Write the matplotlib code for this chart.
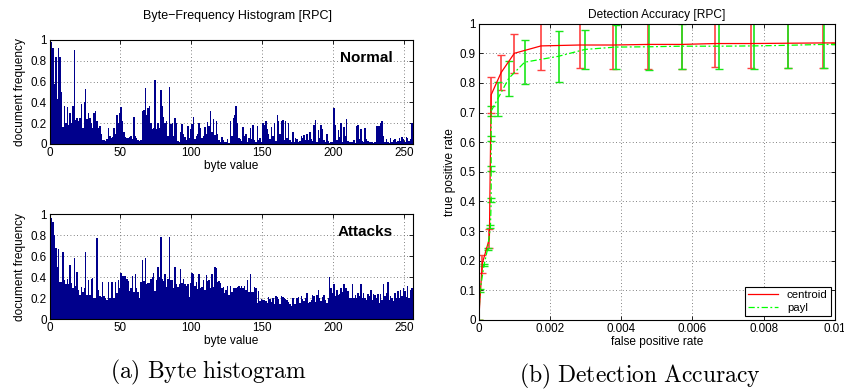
# ==========================
# Byte histograms + detection accuracy (RPC)
# ==========================

import numpy as np
import matplotlib
matplotlib.use("Agg")
import matplotlib.pyplot as plt

plt.rcParams["font.family"] = ["Liberation Sans", "DejaVu Sans"]
plt.rcParams["mathtext.fontset"] = "cm"

# ==========================
# 1. Data
# ==========================

byte_values = np.arange(256)

normal_freq = [
    1.0, 0.98, 0.92, 0.58, 0.84, 0.43, 0.92, 0.84, 0.5, 0.16, 0.37, 0.2, 0.36, 0.18, 0.3, 0.2,
    0.37, 0.9, 0.23, 0.25, 0.22, 0.25, 0.38, 0.15, 0.4, 0.53, 0.24, 0.3, 0.25, 0.2, 0.15, 0.3,
    0.32, 0.22, 0.15, 0.17, 0.1, 0.04, 0.04, 0.03, 0.05, 0.15, 0.08, 0.06, 0.07, 0.15, 0.1, 0.28,
    0.2, 0.3, 0.36, 0.22, 0.12, 0.07, 0.06, 0.06, 0.07, 0.08, 0.05, 0.26, 0.08, 0.06, 0.04, 0.03,
    0.04, 0.32, 0.33, 0.54, 0.28, 0.35, 0.37, 0.2, 0.14, 0.15, 0.62, 0.14, 0.2, 0.15, 0.52, 0.37,
    0.26, 0.2, 0.22, 0.08, 0.55, 0.19, 0.2, 0.08, 0.25, 0.2, 0.03, 0.02, 0.12, 0.19, 0.1, 0.07,
    0.04, 0.17, 0.06, 0.14, 0.19, 0.26, 0.05, 0.08, 0.1, 0.2, 0.15, 0.06, 0.08, 0.16, 0.1, 0.21,
    0.17, 0.32, 0.12, 0.24, 0.09, 0.22, 0.1, 0.04, 0.02, 0.07, 0.04, 0.02, 0.02, 0.05, 0.01, 0.22,
    0.08, 0.25, 0.28, 0.37, 0.2, 0.06, 0.05, 0.03, 0.16, 0.08, 0.1, 0.02, 0.06, 0.15, 0.05, 0.18,
    0.04, 0.02, 0.17, 0.04, 0.06, 0.02, 0.2, 0.18, 0.22, 0.14, 0.1, 0.05, 0.16, 0.08, 0.2, 0.03,
    0.28, 0.22, 0.1, 0.22, 0.23, 0.04, 0.22, 0.06, 0.2, 0.04, 0.02, 0.12, 0.02, 0.06, 0.05, 0.02,
    0.03, 0.08, 0.06, 0.09, 0.04, 0.1, 0.04, 0.12, 0.05, 0.03, 0.18, 0.23, 0.02, 0.13, 0.06, 0.18,
    0.14, 0.04, 0.02, 0.1, 0.03, 0.01, 0.02, 0.02, 0.35, 0.18, 0.04, 0.13, 0.07, 0.2, 0.02, 0.16,
    0.08, 0.24, 0.03, 0.02, 0.02, 0.02, 0.04, 0.01, 0.17, 0.18, 0.05, 0.14, 0.03, 0.02, 0.15, 0.05,
    0.03, 0.02, 0.02, 0.02, 0.01, 0.02, 0.17, 0.17, 0.17, 0.2, 0.22, 0.08, 0.02, 0.05, 0.02, 0.01,
    0.06, 0.02, 0.04, 0.05, 0.02, 0.03, 0.06, 0.03, 0.07, 0.05, 0.02, 0.07, 0.06, 0.03, 0.05, 0.2,
]

attack_freq = [
    0.98, 0.96, 0.93, 0.8, 0.68, 0.5, 0.67, 0.35, 0.35, 0.64, 0.37, 0.33, 0.38, 0.33, 0.52, 0.34,
    0.3, 0.58, 0.32, 0.45, 0.28, 0.23, 0.31, 0.26, 0.3, 0.64, 0.23, 0.37, 0.23, 0.38, 0.39, 0.2,
    0.2, 0.77, 0.28, 0.22, 0.21, 0.35, 0.22, 0.2, 0.18, 0.35, 0.2, 0.35, 0.35, 0.2, 0.35, 0.25,
    0.37, 0.3, 0.44, 0.41, 0.41, 0.41, 0.38, 0.36, 0.27, 0.3, 0.41, 0.26, 0.43, 0.3, 0.26, 0.2,
    0.35, 0.56, 0.36, 0.58, 0.33, 0.34, 0.34, 0.38, 0.4, 0.44, 0.27, 0.37, 0.5, 0.4, 0.78, 0.38,
    0.36, 0.43, 0.31, 0.38, 0.78, 0.37, 0.37, 0.3, 0.5, 0.33, 0.31, 0.33, 0.48, 0.34, 0.38, 0.33,
    0.32, 0.33, 0.21, 0.34, 0.44, 0.43, 0.32, 0.35, 0.29, 0.43, 0.3, 0.31, 0.37, 0.28, 0.42, 0.36,
    0.37, 0.3, 0.43, 0.31, 0.5, 0.49, 0.35, 0.36, 0.34, 0.3, 0.31, 0.25, 0.28, 0.32, 0.23, 0.32,
    0.26, 0.3, 0.3, 0.3, 0.31, 0.32, 0.3, 0.32, 0.3, 0.32, 0.28, 0.37, 0.26, 0.43, 0.26, 0.26,
    0.31, 0.3, 0.15, 0.27, 0.17, 0.19, 0.18, 0.18, 0.17, 0.15, 0.21, 0.19, 0.16, 0.2, 0.14, 0.22,
    0.21, 0.19, 0.14, 0.22, 0.21, 0.2, 0.19, 0.18, 0.16, 0.14, 0.12, 0.2, 0.14, 0.14, 0.2, 0.21,
    0.15, 0.22, 0.19, 0.17, 0.2, 0.25, 0.15, 0.16, 0.18, 0.23, 0.22, 0.16, 0.23, 0.28, 0.2, 0.17,
    0.21, 0.23, 0.18, 0.15, 0.2, 0.4, 0.3, 0.25, 0.33, 0.22, 0.28, 0.23, 0.24, 0.3, 0.26, 0.33,
    0.3, 0.3, 0.27, 0.2, 0.2, 0.33, 0.2, 0.23, 0.2, 0.25, 0.22, 0.33, 0.2, 0.25, 0.2, 0.18,
    0.24, 0.22, 0.28, 0.18, 0.24, 0.23, 0.2, 0.24, 0.15, 0.24, 0.18, 0.33, 0.22, 0.25, 0.35, 0.18,
    0.22, 0.2, 0.17, 0.25, 0.2, 0.27, 0.2, 0.28, 0.22, 0.3, 0.27, 0.21, 0.32, 0.2, 0.28, 0.3,
]

# ROC points: false positive rate, true positive rate, std. deviation
centroid_fpr = [0, 0.0001, 0.0003, 0.00035, 0.00063, 0.001, 0.00175, 0.00283, 0.00378,
                0.00475, 0.0057, 0.00664, 0.00763, 0.00867, 0.00965, 0.01]
centroid_tpr = [0, 0.19, 0.275, 0.76, 0.835, 0.9, 0.925, 0.928, 0.928,
                0.93, 0.93, 0.933, 0.933, 0.934, 0.935, 0.935]
centroid_err = [0, 0.03, 0.032, 0.06, 0.06, 0.066, 0.08, 0.078, 0.08,
                0.082, 0.082, 0.078, 0.083, 0.084, 0.085, 0]

payl_fpr = [0, 0.00004, 0.00015, 0.00025, 0.00033, 0.00035, 0.00035, 0.00035, 0.00035,
            0.00053, 0.00084, 0.00129, 0.00224, 0.00298, 0.00384, 0.00477, 0.0057,
            0.00675, 0.00774, 0.00867, 0.00968, 0.01]
payl_tpr = [0, 0.1, 0.185, 0.24, 0.315, 0.405, 0.512, 0.612, 0.705,
            0.745, 0.815, 0.87, 0.89, 0.913, 0.921, 0.922, 0.924,
            0.924, 0.925, 0.927, 0.93, 0.93]
payl_err = [0, 0.004, 0.004, 0.004, 0.006, 0.006, 0.008, 0.008, 0.018,
            0.058, 0.06, 0.074, 0.086, 0.065, 0.075, 0.079, 0.076,
            0.077, 0.078, 0.077, 0.08, 0]

bar_color = "#00008c"
label_size = 8.6
tick_size = 8.4

# ==========================
# 2. Figure layout
# ==========================

fig = plt.figure(figsize=(8.45, 3.92), dpi=100)

ax_norm = fig.add_axes([0.0586, 0.6327, 0.4298, 0.2653])
ax_att = fig.add_axes([0.0586, 0.1862, 0.4298, 0.2671])
ax_roc = fig.add_axes([0.5665, 0.1837, 0.4217, 0.7559])


def style_axes(ax):
    ax.tick_params(direction="in", length=3, width=0.6, labelsize=tick_size,
                   top=True, right=True, pad=2)
    ax.grid(True, linestyle=(0, (1, 3)), color="0.35", linewidth=0.6)
    ax.set_axisbelow(True)
    for sp in ax.spines.values():
        sp.set_linewidth(0.8)


# ==========================
# 3. Byte histograms
# ==========================

for ax, freq, name in [(ax_norm, normal_freq, "Normal"), (ax_att, attack_freq, "Attacks")]:
    ax.bar(byte_values, freq, width=1.0, align="edge", color=bar_color, linewidth=0)
    ax.set_xlim(0, 256)
    ax.set_ylim(0, 1)
    ax.set_xticks([0, 50, 100, 150, 200, 250])
    ax.set_yticks([0, 0.2, 0.4, 0.6, 0.8, 1])
    ax.set_yticklabels(["0", "0.2", "0.4", "0.6", "0.8", "1"])
    ax.set_xlabel("byte value", fontsize=label_size, labelpad=1)
    ax.set_ylabel("document frequency", fontsize=label_size, labelpad=3)
    ax.text(0.945, 0.83, name, transform=ax.transAxes, ha="right", va="center",
            fontsize=11, fontweight="bold")
    style_axes(ax)

fig.text(238 / 845, 1 - 16 / 392, "Byte\u2212Frequency Histogram [RPC]",
         ha="center", va="center", fontsize=9)

# ==========================
# 4. Detection accuracy
# ==========================

ax_roc.errorbar(centroid_fpr, centroid_tpr, yerr=centroid_err, color="red",
                ecolor=(1, 0.25, 0.25), linewidth=0.9, elinewidth=1.2,
                capsize=2.6, capthick=1, label="centroid")
ax_roc.errorbar(payl_fpr, payl_tpr, yerr=payl_err, color="lime",
                ecolor=(0.1, 0.9, 0.1), linewidth=0.9, linestyle=(0, (5, 2, 1.5, 2)),
                elinewidth=1.2, capsize=2.6, capthick=1, label="payl")

ax_roc.set_xlim(0, 0.01)
ax_roc.set_ylim(0, 1)
ax_roc.set_xticks([0, 0.002, 0.004, 0.006, 0.008, 0.01])
ax_roc.set_xticklabels(["0", "0.002", "0.004", "0.006", "0.008", "0.01"])
ax_roc.set_yticks(np.arange(0, 1.01, 0.1))
ax_roc.set_yticklabels(["0", "0.1", "0.2", "0.3", "0.4", "0.5", "0.6",
                        "0.7", "0.8", "0.9", "1"])
ax_roc.set_xlabel("false positive rate", fontsize=label_size, labelpad=1)
ax_roc.set_ylabel("true positive rate", fontsize=label_size, labelpad=3)
ax_roc.set_title("Detection Accuracy [RPC]", fontsize=8.6, pad=4)
style_axes(ax_roc)

handles, labels = ax_roc.get_legend_handles_labels()
handles = [h[0] for h in handles]
leg = ax_roc.legend(handles, labels, loc="lower right", fontsize=8.2, fancybox=False,
                    framealpha=1, edgecolor="black", handlelength=2.6,
                    borderaxespad=0.35, borderpad=0.3, labelspacing=0.2)
leg.get_frame().set_linewidth(0.8)

# ==========================
# 5. Sub-captions
# ==========================

fig.text(208 / 845, 1 - 372 / 392, r"$\mathrm{(a)\ Byte\ histogram}$",
         ha="center", va="center", fontsize=17)
fig.text(640 / 845, 1 - 376 / 392, r"$\mathrm{(b)\ Detection\ Accuracy}$",
         ha="center", va="center", fontsize=17)

fig.savefig("out.png", dpi=100)
